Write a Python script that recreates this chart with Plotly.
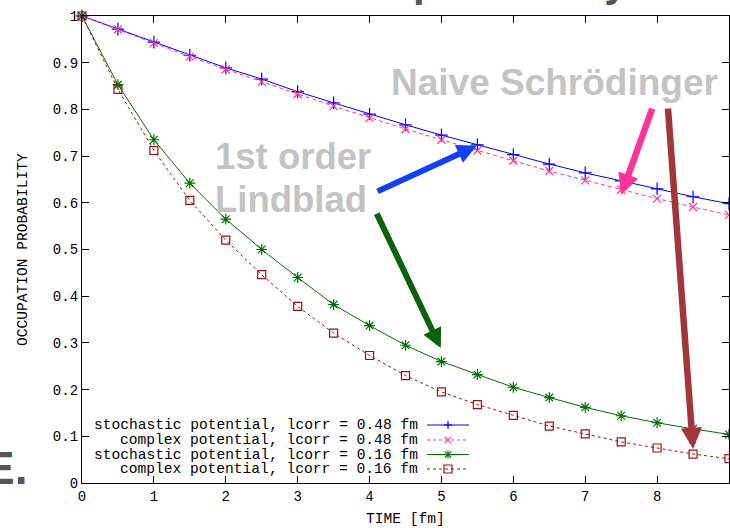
import plotly.graph_objects as go

# ---------------- data ----------------
time = [0, 0.5, 1, 1.5, 2, 2.5, 3, 3.5, 4, 4.5, 5, 5.5, 6, 6.5, 7, 7.5, 8, 8.5, 9]
stoch_048 = [1, 0.972, 0.944, 0.916, 0.889, 0.865, 0.838, 0.814, 0.790, 0.767,
             0.745, 0.724, 0.703, 0.683, 0.664, 0.647, 0.630, 0.613, 0.598]
complex_048 = [1, 0.971, 0.942, 0.913, 0.886, 0.859, 0.833, 0.807, 0.782, 0.758,
               0.735, 0.712, 0.690, 0.668, 0.648, 0.628, 0.609, 0.591, 0.574]
stoch_016 = [1, 0.853, 0.735, 0.642, 0.565, 0.500, 0.440, 0.382, 0.337, 0.295,
             0.260, 0.232, 0.205, 0.183, 0.162, 0.144, 0.129, 0.116, 0.104]
complex_016 = [1, 0.843, 0.712, 0.605, 0.520, 0.446, 0.378, 0.321, 0.273, 0.230,
               0.195, 0.168, 0.145, 0.122, 0.105, 0.088, 0.075, 0.062, 0.052]
series_names = [
    "stochastic potential, lcorr = 0.48 fm",
    "complex potential, lcorr = 0.48 fm",
    "stochastic potential, lcorr = 0.16 fm",
    "complex potential, lcorr = 0.16 fm",
]
x_ticks = [0, 1, 2, 3, 4, 5, 6, 7, 8]
y_ticks = [0, 0.1, 0.2, 0.3, 0.4, 0.5, 0.6, 0.7, 0.8, 0.9, 1]

# ---------------- layout constants ----------------
W, H = 730, 528
L, R, T, B = 82, 1, 16, 45
PW, PH = W - L - R, H - T - B
MONO = "Liberation Mono, Courier New, monospace"
SANS = "Liberation Sans, Arial, sans-serif"


def px(xp):
    return (xp - L) / PW


def py(yp):
    return (H - B - yp) / PH


styles = [
    dict(color="#0000ff", dash="solid", symbol="cross-thin", size=9),
    dict(color="#ff3399", dash="4px,3px", symbol="x-thin", size=8),
    dict(color="#007000", dash="solid", symbol="asterisk", size=9),
    dict(color="#a01010", dash="3px,3px", symbol="square-open", size=8),
]
series = [stoch_048, complex_048, stoch_016, complex_016]

fig = go.Figure()
for name, ys, st in zip(series_names, series, styles):
    fig.add_trace(go.Scatter(
        x=time, y=ys, name=name, mode="lines+markers",
        line=dict(color=st["color"], width=1, dash=st["dash"]),
        marker=dict(symbol=st["symbol"], size=st["size"], color=st["color"],
                    line=dict(color=st["color"], width=1.2)),
        showlegend=False, cliponaxis=False,
    ))

annotations = []
shapes = []

# ---- custom gnuplot-style legend (text right, key sample on the right) ----
row_y = [425, 440, 454.5, 469]
for name, st, ry in zip(series_names, styles, row_y):
    annotations.append(dict(
        x=px(419), y=py(ry), xref="paper", yref="paper", xanchor="right",
        yanchor="middle", text=name, showarrow=False, borderpad=0,
        font=dict(family=MONO, size=14.6, color="#000000")))
    dash = "solid" if st["dash"] == "solid" else "3px,3px"
    shapes.append(dict(type="line", xref="paper", yref="paper",
                       x0=px(427), x1=px(469), y0=py(ry), y1=py(ry),
                       line=dict(color=st["color"], width=1, dash=dash)))
    cx, cy, s = 448, ry, 4
    seg = []
    if st["symbol"] in ("cross-thin", "asterisk"):
        seg += [((cx - s, cy), (cx + s, cy)), ((cx, cy - s), (cx, cy + s))]
    if st["symbol"] in ("x-thin", "asterisk"):
        d = s * 0.8
        seg += [((cx - d, cy - d), (cx + d, cy + d)), ((cx - d, cy + d), (cx + d, cy - d))]
    for (a, b) in seg:
        shapes.append(dict(type="line", xref="paper", yref="paper",
                           x0=px(a[0]), y0=py(a[1]), x1=px(b[0]), y1=py(b[1]),
                           line=dict(color=st["color"], width=1.2)))
    if st["symbol"] == "square-open":
        shapes.append(dict(type="rect", xref="paper", yref="paper",
                           x0=px(cx - 4), x1=px(cx + 4), y0=py(cy - 4), y1=py(cy + 4),
                           line=dict(color=st["color"], width=1.2)))

# ---- axis titles ----
annotations.append(dict(x=px(405), y=py(519), xref="paper", yref="paper",
                        xanchor="center", yanchor="middle",
                        text="TIME [fm]", showarrow=False,
                        font=dict(family=MONO, size=14.6, color="#000000")))
annotations.append(dict(x=px(23), y=py(250), xref="paper", yref="paper",
                        xanchor="center", yanchor="middle",
                        text="OCCUPATION PROBABILITY", showarrow=False, textangle=-90,
                        font=dict(family=MONO, size=14.6, color="#000000")))

# ---- grey overlay labels ----
GREY = "#c3c3c3"
annotations.append(dict(x=px(390), y=py(83), xref="paper", yref="paper",
                        xanchor="left", yanchor="middle", text="<b>Naive Schrödinger</b>",
                        showarrow=False, borderpad=0,
                        font=dict(family=SANS, size=37, color=GREY)))
annotations.append(dict(x=px(214), y=py(157), xref="paper", yref="paper",
                        xanchor="left", yanchor="middle", text="<b>1st order</b>",
                        showarrow=False, borderpad=0,
                        font=dict(family=SANS, size=36.5, color=GREY)))
annotations.append(dict(x=px(214), y=py(199.5), xref="paper", yref="paper",
                        xanchor="left", yanchor="middle", text="<b>Lindblad</b>",
                        showarrow=False, borderpad=0,
                        font=dict(family=SANS, size=36.5, color=GREY)))

# partially visible slide texts (clipped by the window)
annotations.append(dict(x=px(412), y=py(6), xref="paper", yref="paper",
                        xanchor="left", yanchor="bottom", text="<b>probability</b>",
                        showarrow=False, borderpad=0,
                        font=dict(family=SANS, size=42, color="#555555")))
annotations.append(dict(x=px(28), y=py(468), xref="paper", yref="paper",
                        xanchor="right", yanchor="middle", text="<b>E.</b>",
                        showarrow=False, borderpad=0,
                        font=dict(family=SANS, size=46, color="#555555")))

# ---- arrows (head at data point, tail in data coords) ----
arrows = [
    # (tail_x, tail_y, head_x, head_y, color, width)
    (4.09, 0.623, 5.49, 0.722, "#1040f8", 6),
    (4.09, 0.580, 4.99, 0.289, "#0a620a", 6),
    (7.94, 0.805, 7.50, 0.617, "#ff3399", 6.5),
    (8.15, 0.805, 8.50, 0.073, "#a3363c", 6.5),
]
for tx, ty, hx, hy, col, w in arrows:
    annotations.append(dict(x=hx, y=hy, ax=tx, ay=ty, xref="x", yref="y",
                            axref="x", ayref="y", text="", showarrow=True,
                            arrowhead=2, arrowsize=0.65, arrowwidth=w,
                            arrowcolor=col, standoff=0, startstandoff=0))

axis_common = dict(showline=True, linecolor="#000000", linewidth=1.3, mirror="ticks",
                   ticks="inside", ticklen=7, tickcolor="#000000", tickwidth=1,
                   showgrid=False, zeroline=False,
                   tickfont=dict(family=MONO, size=14, color="#000000"))

fig.update_layout(
    width=W, height=H,
    margin=dict(l=L, r=R, t=T, b=B, pad=0),
    paper_bgcolor="#ffffff", plot_bgcolor="#ffffff",
    xaxis=dict(range=[0, 9], tickvals=x_ticks, **axis_common),
    yaxis=dict(range=[0, 1], tickvals=y_ticks, **axis_common),
    annotations=annotations, shapes=shapes,
)

fig.write_html("out.html")
